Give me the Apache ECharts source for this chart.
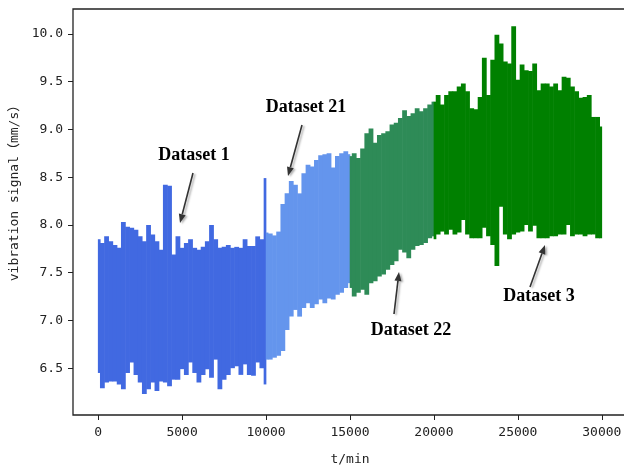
<!DOCTYPE html>
<html>
<head>
<meta charset="utf-8">
<script src="https://cdn.jsdelivr.net/npm/echarts@6/dist/echarts.min.js"></script>
<style>
  html, body { margin: 0; padding: 0; background: #fff; }
  #main { width: 624px; height: 467px; }
</style>
</head>
<body>
<div id="main"></div>
<script>
// sampling step of the envelopes (min)
const STEP = 250;

// Dataset 1: t = 0 .. 10000
const seg1Hi = [7.85, 7.81, 7.88, 7.83, 7.79, 7.76, 8.03, 7.98, 7.97, 7.95,
                7.88, 7.83, 8.00, 7.90, 7.83, 7.74, 8.42, 8.41, 7.69, 7.88,
                7.76, 7.81, 7.85, 7.76, 7.74, 7.77, 7.83, 8.00, 7.85, 7.76,
                7.77, 7.79, 7.76, 7.77, 7.76, 7.85, 7.78, 7.78, 7.88, 7.85, 8.49];
const seg1Lo = [6.45, 6.29, 6.35, 6.36, 6.36, 6.33, 6.28, 6.45, 6.56, 6.43,
                6.35, 6.23, 6.28, 6.35, 6.26, 6.36, 6.35, 6.31, 6.38, 6.38,
                6.49, 6.43, 6.56, 6.45, 6.35, 6.43, 6.49, 6.40, 6.59, 6.28,
                6.38, 6.43, 6.50, 6.52, 6.43, 6.54, 6.43, 6.42, 6.56, 6.50, 6.33];

// Dataset 21: t = 10000 .. 15000
const seg21Hi = [7.92, 7.91, 7.89, 7.93, 8.22, 8.33, 8.46, 8.42, 8.33, 8.54,
                 8.63, 8.61, 8.68, 8.73, 8.74, 8.75, 8.60, 8.72, 8.75, 8.77, 8.74];
const seg21Lo = [6.59, 6.59, 6.61, 6.63, 6.68, 6.90, 7.04, 7.11, 7.04, 7.13,
                 7.18, 7.13, 7.17, 7.22, 7.18, 7.23, 7.22, 7.27, 7.29, 7.34, 7.39];

// Dataset 22: t = 15000 .. 20000
const seg22Hi = [8.72, 8.75, 8.70, 8.80, 8.96, 9.01, 8.86, 8.94, 8.96, 8.98,
                 9.05, 9.07, 9.12, 9.20, 9.14, 9.17, 9.22, 9.19, 9.22, 9.26, 9.29];
const seg22Lo = [7.34, 7.25, 7.29, 7.32, 7.27, 7.39, 7.41, 7.46, 7.48, 7.53,
                 7.58, 7.62, 7.74, 7.71, 7.65, 7.74, 7.78, 7.79, 7.81, 7.86, 7.88];

// Dataset 3: t = 20000 .. 30000
const seg3Hi = [9.29, 9.36, 9.26, 9.36, 9.40, 9.40, 9.45, 9.48, 9.40, 9.22,
                9.21, 9.34, 9.75, 9.36, 9.73, 9.99, 9.90, 9.71, 9.69, 10.08,
                9.52, 9.68, 9.62, 9.61, 9.69, 9.41, 9.48, 9.48, 9.45, 9.48,
                9.41, 9.55, 9.54, 9.45, 9.40, 9.33, 9.34, 9.36, 9.13, 9.13, 9.03];
const seg3Lo = [7.85, 7.90, 7.93, 7.90, 7.95, 7.90, 7.92, 8.05, 7.90, 7.86,
                7.86, 7.86, 7.97, 7.88, 7.79, 7.57, 8.19, 7.90, 7.85, 7.90,
                7.92, 7.93, 8.00, 7.93, 7.99, 7.86, 7.86, 7.86, 7.88, 7.88,
                7.90, 7.90, 8.00, 7.88, 7.90, 7.90, 7.88, 7.90, 7.90, 7.86, 7.86];

const xTicks = [0, 5000, 10000, 15000, 20000, 25000, 30000];
const yTicks = [6.5, 7.0, 7.5, 8.0, 8.5, 9.0, 9.5, 10.0];

const segments = [
  { name: 'Dataset 1',  start: 0,     hi: seg1Hi,  lo: seg1Lo,  color: '#4169e1' },
  { name: 'Dataset 21', start: 10000, hi: seg21Hi, lo: seg21Lo, color: '#6495ed' },
  { name: 'Dataset 22', start: 15000, hi: seg22Hi, lo: seg22Lo, color: '#2e8b57' },
  { name: 'Dataset 3',  start: 20000, hi: seg3Hi,  lo: seg3Lo,  color: '#008000' }
];

// one custom series per segment: every sample is a thin bar from lower to upper envelope
const series = segments.map(function (s) {
  return {
    type: 'custom', name: s.name, silent: true,
    data: s.hi.map(function (v, i) { return [s.start + i * STEP, s.lo[i], v]; }),
    renderItem: function (params, api) {
      const t = api.value(0);
      const first = params.dataIndex === 0;
      const last = params.dataIndex === s.hi.length - 1;
      const p0 = api.coord([first ? t : t - STEP / 2, api.value(2)]);
      const p1 = api.coord([last ? t : t + STEP / 2, api.value(1)]);
      return {
        type: 'rect',
        shape: { x: p0[0] - 0.3, y: p0[1], width: p1[0] - p0[0] + 0.6, height: p1[1] - p0[1] },
        style: { fill: s.color }
      };
    }
  };
});

const monoFont = '"DejaVu Sans Mono", "Noto Sans CJK SC", monospace';

// arrows with a head, pixel positions of the annotations
function arrow(x1, y1, x2, y2) {
  const ang = Math.atan2(y2 - y1, x2 - x1);
  const len = 9, half = 3.5;
  const bx = x2 - len * Math.cos(ang), by = y2 - len * Math.sin(ang);
  const nx = -Math.sin(ang), ny = Math.cos(ang);
  const shadow = { shadowColor: 'rgba(0,0,0,0.3)', shadowBlur: 2, shadowOffsetX: 2, shadowOffsetY: 1 };
  return {
    type: 'group', silent: true, z: 100,
    children: [
      { type: 'line', z: 100, shape: { x1: x1, y1: y1, x2: bx, y2: by },
        style: Object.assign({ stroke: '#333', lineWidth: 1.6 }, shadow) },
      { type: 'polygon', z: 100, shape: { points: [[x2, y2], [bx + nx * half, by + ny * half], [bx - nx * half, by - ny * half]] },
        style: Object.assign({ fill: '#333' }, shadow) }
    ]
  };
}
function label(text, x, y) {
  return {
    type: 'text', silent: true, x: x, y: y, z: 100,
    style: { text: text, font: 'bold 18px "Liberation Serif", "Times New Roman", serif',
             fill: '#000', align: 'center', verticalAlign: 'middle' }
  };
}

const chart = echarts.init(document.getElementById('main'), null, { renderer: 'canvas' });
chart.setOption({
  backgroundColor: '#fff',
  animation: false,
  grid: { left: 73, top: 9, width: 554, height: 406, show: true, outerBoundsMode: 'none',
          containLabel: false, borderColor: '#222', borderWidth: 1.3, backgroundColor: 'transparent' },
  xAxis: {
    type: 'value', min: -1500, max: 31500,
    name: 't/min', nameLocation: 'middle', nameGap: 38,
    nameTextStyle: { fontFamily: monoFont, fontSize: 13, color: '#222' },
    axisLine: { show: false, onZero: false },
    axisTick: { show: true, customValues: xTicks, length: 5, lineStyle: { color: '#222' } },
    axisLabel: { customValues: xTicks, margin: 11, fontFamily: monoFont, fontSize: 13, color: '#222',
                 formatter: function (v) { return String(v); } },
    splitLine: { show: false }
  },
  yAxis: {
    type: 'value', min: 6.01, max: 10.26,
    axisLine: { show: false, onZero: false },
    axisTick: { show: true, customValues: yTicks, length: 5, lineStyle: { color: '#222' } },
    axisLabel: { customValues: yTicks, margin: 10, fontFamily: monoFont, fontSize: 13, color: '#222',
                 formatter: function (v) { return v.toFixed(1); } },
    splitLine: { show: false }
  },
  series: series,
  graphic: [
    {
      type: 'text', silent: true, x: 15, y: 190, rotation: Math.PI / 2, z: 100,
      style: { text: 'vibration signal（mm/s）', font: '13px ' + monoFont, fill: '#222',
               align: 'center', verticalAlign: 'middle' }
    },
    label('Dataset 1', 194, 155), arrow(193, 173, 180, 223),
    label('Dataset 21', 306, 107), arrow(302, 125, 288, 176),
    label('Dataset 22', 411, 330), arrow(394, 314, 399, 272),
    label('Dataset 3', 539, 296), arrow(530, 287, 545, 245)
  ]
});
</script>
</body>
</html>
